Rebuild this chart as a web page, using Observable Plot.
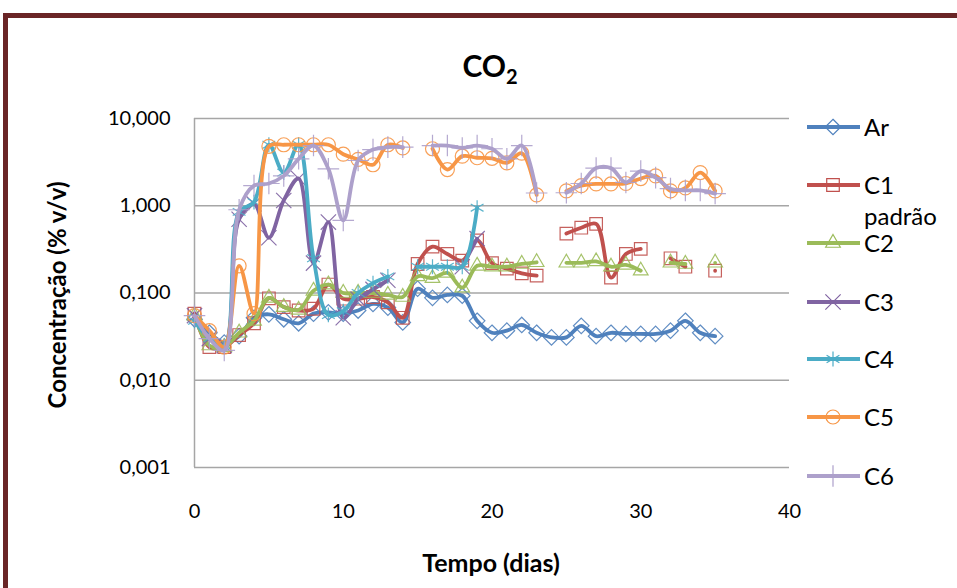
<!DOCTYPE html>
<html><head><meta charset="utf-8">
<script src="https://cdn.jsdelivr.net/npm/d3@7"></script>
<script src="https://cdn.jsdelivr.net/npm/@observablehq/plot@0.6"></script>
<style>body{margin:0;background:#fff;} svg{font-family:Lato,sans-serif;}</style>
</head><body><div id="chart"></div>
<script>
const days = d3.range(0, 36);
const seriesNames = ["Ar", "C1 padrão", "C2", "C3", "C4", "C5", "C6"];
const Ar = [0.05,0.035,0.027,0.032,0.052,0.057,0.05,0.045,0.058,0.06,0.058,0.063,0.075,0.068,0.046,0.112,0.088,0.095,0.093,0.048,0.035,0.037,0.043,0.035,0.031,0.031,0.042,0.032,0.035,0.034,0.034,0.034,0.037,0.048,0.035,0.032];
const C1 = [0.058,0.024,0.024,0.033,0.045,0.087,0.069,0.063,0.066,0.125,0.086,0.086,0.09,0.078,0.052,0.215,0.34,0.28,0.235,0.4,0.22,0.19,0.168,0.158,null,0.48,0.56,0.62,0.15,0.28,0.32,null,0.25,0.2,null,0.18];
const C2 = [0.055,0.025,0.024,0.035,0.048,0.088,0.069,0.064,0.106,0.125,0.1,0.1,0.1,0.095,0.09,0.155,0.148,0.17,0.115,0.205,0.2,0.2,0.215,0.225,null,0.222,0.222,0.23,0.2,0.21,0.18,null,0.222,0.215,null,0.222];
const C3 = [0.055,0.03,0.025,0.7,1.05,0.43,1.15,2.05,0.22,0.65,0.052,0.085,0.11,0.14,null,null,null,null,0.2,0.42,null,null,null,null,null,null,null,null,null,null,null,null,null,null,null,null];
const C4 = [0.048,0.03,0.025,0.85,1.1,5.0,2.4,5.0,0.25,0.056,0.062,0.1,0.13,0.155,null,0.2,0.2,0.2,0.2,0.95,null,null,null,null,null,null,null,null,null,null,null,null,null,null,null,null];
const C5 = [0.055,0.037,0.024,0.205,0.058,4.8,5.0,5.0,5.0,5.0,3.9,3.4,2.95,5.0,4.6,null,4.5,2.6,3.7,3.55,3.5,3.1,4.0,1.33,null,1.48,1.7,1.78,1.78,1.8,2.05,2.2,1.48,1.6,2.4,1.48];
const C6 = [0.055,0.03,0.022,0.9,1.7,1.8,2.2,3.45,4.9,2.65,0.68,3.3,4.4,4.7,4.7,null,4.9,4.9,4.6,4.9,4.5,3.45,4.9,1.4,null,1.41,1.8,2.7,2.7,1.85,2.5,2.1,1.57,1.5,1.5,1.38];
const xTicks = [0, 10, 20, 30, 40];
const yTicks = [0.001, 0.01, 0.1, 1, 10];
const yTickLabels = ["0,001", "0,010", "0,100", "1,000", "10,000"];

const seriesValues = [Ar, C1, C2, C3, C4, C5, C6];
const colors = ["#4F81BD", "#C0504D", "#9BBB59", "#8064A2", "#4BACC6", "#F79646", "#ADA0CB"];
const symbols = ["diamond2", "square2", "triangle2", "times", "asterisk", "circle", "plus"];
const d3symbols = [d3.symbolDiamond2, d3.symbolSquare2, d3.symbolTriangle2, d3.symbolTimes, d3.symbolAsterisk, d3.symbolCircle, d3.symbolPlus];
const markerR = [7, 8, 7, 7, 7, 7, 7];

const rows = [];
seriesNames.forEach((s, i) => days.forEach((d, j) => rows.push({series: s, day: d, value: seriesValues[i][j]})));

const marks = [
  Plot.gridY(yTicks, {stroke: "#a6a6a6", strokeOpacity: 1, strokeWidth: 1.5}),
  Plot.ruleX([0], {stroke: "#a6a6a6", strokeWidth: 1.5}),
  Plot.axisY({ticks: yTicks, tickSize: 0, tickPadding: 24, tickFormat: d => yTickLabels[yTicks.indexOf(d)], label: null, fontSize: 20}),
  Plot.axisX({ticks: xTicks, tickSize: 0, tickPadding: 36, label: null, fontSize: 20})
];
seriesNames.forEach((s, i) => {
  const data = rows.filter(r => r.series === s);
  marks.push(Plot.line(data, {x: "day", y: "value", stroke: colors[i], strokeWidth: 3.8, curve: "catmull-rom"}));
  marks.push(Plot.dot(data.filter(r => r.value != null), {x: "day", y: "value", stroke: colors[i], symbol: () => symbols[i], r: markerR[i], fill: "none", strokeWidth: 1.2, strokeOpacity: 0.9}));
});

const chart = Plot.plot({
  width: 957, height: 588,
  marginLeft: 194, marginRight: 168, marginTop: 118, marginBottom: 121,
  style: {fontFamily: "Lato, sans-serif", color: "#000", background: "#fff"},
  x: {domain: [0, 40]},
  y: {type: "log", domain: [0.001, 10]},
  symbol: {type: "identity"},
  marks
});
document.getElementById("chart").appendChild(chart);

const svg = d3.select(chart);
svg.append("rect").attr("x", 5.5).attr("y", 15.5).attr("width", 1200).attr("height", 900)
  .attr("fill", "none").attr("stroke", "#6a2526").attr("stroke-width", 5);
const title = svg.append("text").attr("x", 490).attr("y", 77).attr("text-anchor", "middle")
  .attr("font-size", 30).attr("font-weight", "bold").attr("fill", "#000");
title.append("tspan").text("CO");
title.append("tspan").attr("font-size", 20).attr("dy", 7).text("2");
svg.append("text").attr("transform", "translate(66,295) rotate(-90)").attr("text-anchor", "middle")
  .attr("font-size", 24).attr("font-weight", "bold").attr("fill", "#000").text("Concentração (% v/v)");
svg.append("text").attr("x", 491).attr("y", 572).attr("text-anchor", "middle")
  .attr("font-size", 25).attr("font-weight", "bold").attr("fill", "#000").text("Tempo (dias)");

const legendY = [127, 185, 243, 302, 359, 417, 476];
seriesNames.forEach((s, i) => {
  const g = svg.append("g").attr("transform", `translate(0,${legendY[i]})`);
  g.append("line").attr("x1", 807).attr("x2", 860).attr("y1", 0).attr("y2", 0).attr("stroke", colors[i]).attr("stroke-width", 3.8);
  g.append("path").attr("transform", "translate(833,0)").attr("d", d3.symbol(d3symbols[i], markerR[i] * markerR[i] * Math.PI)())
    .attr("fill", "none").attr("stroke", colors[i]).attr("stroke-width", 1.2);
  const t = g.append("text").attr("x", 864).attr("y", 0).attr("dy", "0.36em").attr("text-anchor", "start").attr("font-size", 24).attr("fill", "#000");
  if (s === "C1 padrão") {
    t.append("tspan").attr("x", 864).text("C1");
    t.append("tspan").attr("x", 864).attr("dy", 31).text("padrão");
  } else t.text(s);
});
</script>
</body></html>
